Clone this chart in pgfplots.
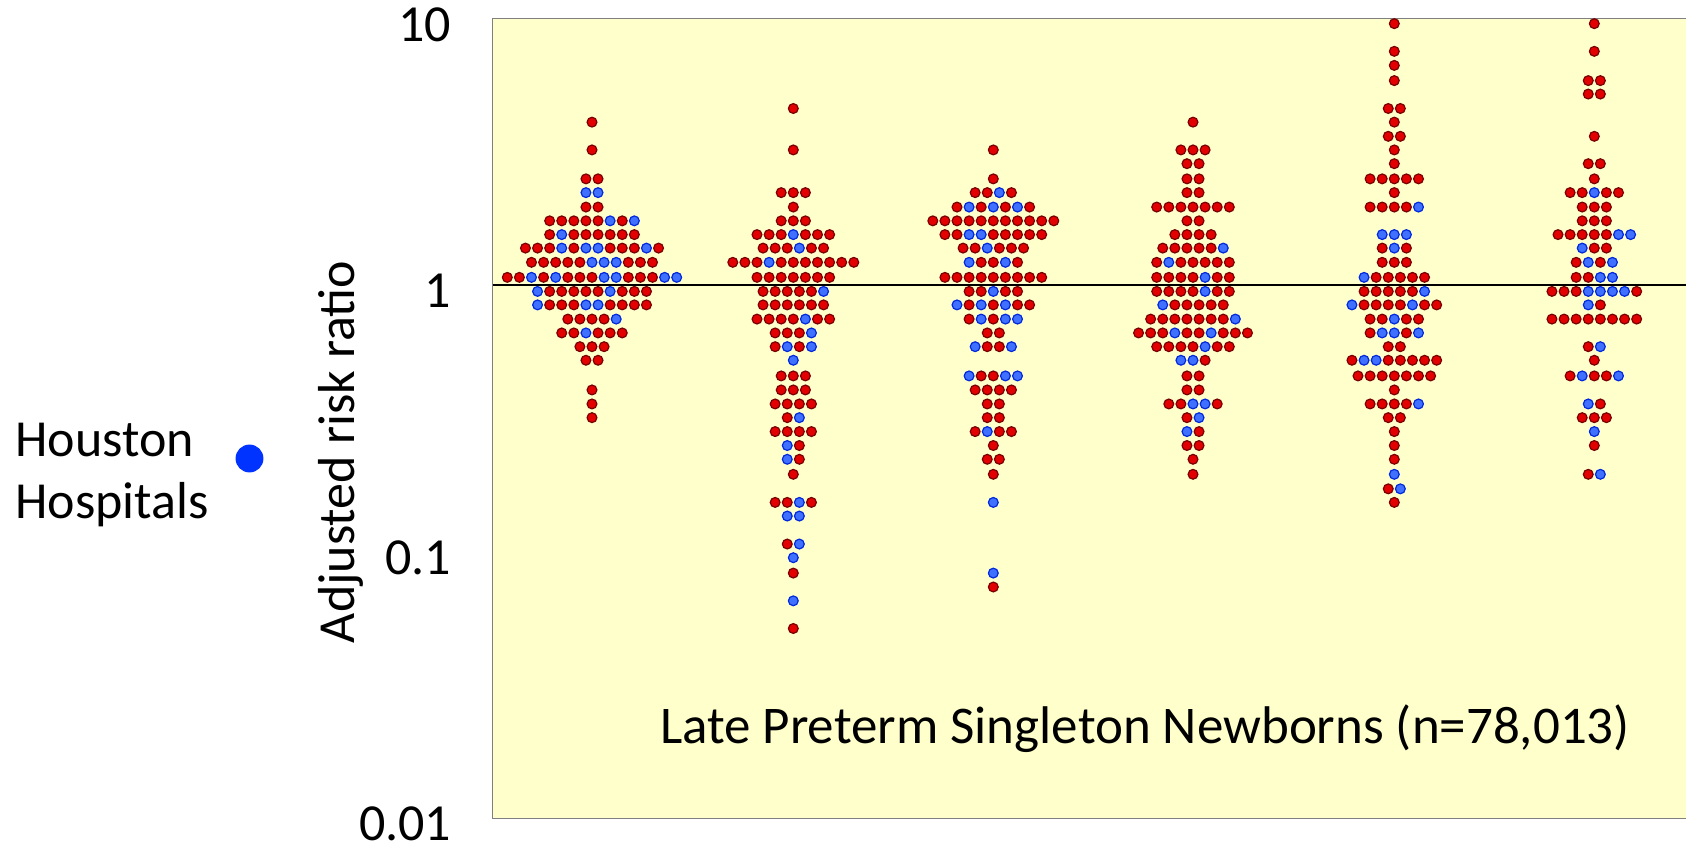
\documentclass[border=0pt]{standalone}
\usepackage{pgfplots}
\pgfplotsset{compat=1.18}
\usepackage{pgfplotstable}
\usepackage{fontspec}
\setmainfont{Carlito}
\definecolor{bgyellow}{RGB}{255,255,204}
\definecolor{rfill}{RGB}{226,0,0}
\definecolor{rdraw}{RGB}{120,0,0}
\definecolor{bfill}{RGB}{64,112,255}
\definecolor{bdraw}{RGB}{0,40,220}
\definecolor{legblue}{RGB}{0,51,255}
\newcommand{\bigfont}{\fontsize{26bp}{31.2bp}\selectfont}

% Group 1
\pgfplotstableread[row sep=\\]{
k y c \\
0 4.08 r \\
0 3.21 r \\
-0.5 2.50 r \\ 0.5 2.50 r \\
-0.5 2.22 b \\ 0.5 2.22 b \\
-0.5 1.96 r \\ 0.5 1.96 r \\
-3.5 1.74 r \\ -2.5 1.74 r \\ -1.5 1.74 r \\ -0.5 1.74 r \\ 0.5 1.74 r \\ 1.5 1.74 b \\ 2.5 1.74 r \\ 3.5 1.74 b \\
-3.5 1.545 r \\ -2.5 1.545 b \\ -1.5 1.545 r \\ -0.5 1.545 r \\ 0.5 1.545 r \\ 1.5 1.545 r \\ 2.5 1.545 r \\ 3.5 1.545 r \\
-5.5 1.375 r \\ -4.5 1.375 r \\ -3.5 1.375 r \\ -2.5 1.375 b \\ -1.5 1.375 r \\ -0.5 1.375 b \\ 0.5 1.375 b \\ 1.5 1.375 r \\ 2.5 1.375 r \\ 3.5 1.375 r \\ 4.5 1.375 b \\ 5.5 1.375 r \\
-5 1.216 r \\ -4 1.216 r \\ -3 1.216 r \\ -2 1.216 r \\ -1 1.216 r \\ 0 1.216 b \\ 1 1.216 b \\ 2 1.216 b \\ 3 1.216 r \\ 4 1.216 r \\ 5 1.216 r \\
-7 1.068 r \\ -6 1.068 r \\ -5 1.068 b \\ -4 1.068 r \\ -3 1.068 b \\ -2 1.068 r \\ -1 1.068 r \\ 0 1.068 r \\ 1 1.068 b \\ 2 1.068 b \\ 3 1.068 r \\ 4 1.068 r \\ 5 1.068 r \\ 6 1.068 b \\ 7 1.068 b \\
-4.5 0.946 b \\ -3.5 0.946 r \\ -2.5 0.946 r \\ -1.5 0.946 r \\ -0.5 0.946 r \\ 0.5 0.946 r \\ 1.5 0.946 b \\ 2.5 0.946 r \\ 3.5 0.946 r \\ 4.5 0.946 r \\
-4.5 0.842 b \\ -3.5 0.842 r \\ -2.5 0.842 r \\ -1.5 0.842 r \\ -0.5 0.842 b \\ 0.5 0.842 b \\ 1.5 0.842 r \\ 2.5 0.842 r \\ 3.5 0.842 r \\ 4.5 0.842 r \\
-2 0.745 r \\ -1 0.745 r \\ 0 0.745 r \\ 1 0.745 r \\ 2 0.745 b \\
-2.5 0.661 r \\ -1.5 0.661 r \\ -0.5 0.661 b \\ 0.5 0.661 r \\ 1.5 0.661 r \\ 2.5 0.661 r \\
-1 0.587 r \\ 0 0.587 r \\ 1 0.587 r \\
-0.5 0.522 r \\ 0.5 0.522 r \\
0 0.404 r \\
0 0.358 r \\
0 0.318 r \\
}\gone

% Group 2
\pgfplotstableread[row sep=\\]{
k y c \\
0 4.59 r \\
0 3.21 r \\
-1 2.22 r \\ 0 2.22 r \\ 1 2.22 r \\
0 1.96 r \\
-1 1.74 r \\ 0 1.74 r \\ 1 1.74 r \\
-3 1.545 r \\ -2 1.545 r \\ -1 1.545 r \\ 0 1.545 b \\ 1 1.545 r \\ 2 1.545 r \\ 3 1.545 r \\
-2.5 1.375 r \\ -1.5 1.375 r \\ -0.5 1.375 r \\ 0.5 1.375 b \\ 1.5 1.375 r \\ 2.5 1.375 r \\
-5 1.216 r \\ -4 1.216 r \\ -3 1.216 r \\ -2 1.216 b \\ -1 1.216 r \\ 0 1.216 r \\ 1 1.216 r \\ 2 1.216 r \\ 3 1.216 r \\ 4 1.216 r \\ 5 1.216 r \\
-3 1.068 r \\ -2 1.068 r \\ -1 1.068 r \\ 0 1.068 r \\ 1 1.068 r \\ 2 1.068 r \\ 3 1.068 r \\
-2.5 0.946 r \\ -1.5 0.946 r \\ -0.5 0.946 r \\ 0.5 0.946 r \\ 1.5 0.946 r \\ 2.5 0.946 b \\
-2.5 0.842 r \\ -1.5 0.842 r \\ -0.5 0.842 r \\ 0.5 0.842 r \\ 1.5 0.842 r \\ 2.5 0.842 r \\
-3 0.745 r \\ -2 0.745 r \\ -1 0.745 r \\ 0 0.745 r \\ 1 0.745 b \\ 2 0.745 r \\ 3 0.745 r \\
-1.5 0.661 r \\ -0.5 0.661 r \\ 0.5 0.661 r \\ 1.5 0.661 b \\
-1.5 0.587 r \\ -0.5 0.587 b \\ 0.5 0.587 r \\ 1.5 0.587 b \\
0 0.522 b \\
-1 0.456 r \\ 0 0.456 r \\ 1 0.456 r \\
-1 0.404 r \\ 0 0.404 r \\ 1 0.404 r \\
-1.5 0.358 r \\ -0.5 0.358 r \\ 0.5 0.358 r \\ 1.5 0.358 r \\
-0.5 0.318 r \\ 0.5 0.318 b \\
-1.5 0.282 r \\ -0.5 0.282 r \\ 0.5 0.282 r \\ 1.5 0.282 r \\
-0.5 0.250 b \\ 0.5 0.250 r \\
-0.5 0.222 b \\ 0.5 0.222 r \\
0 0.195 r \\
-1.5 0.153 r \\ -0.5 0.153 r \\ 0.5 0.153 b \\ 1.5 0.153 r \\
-0.5 0.136 b \\ 0.5 0.136 b \\
-0.5 0.1068 r \\ 0.5 0.1068 b \\
0 0.0949 b \\
0 0.0831 r \\
0 0.0654 b \\
0 0.0515 r \\
}\gtwo

% Group 3
\pgfplotstableread[row sep=\\]{
k y c \\
0 3.21 r \\
0 2.50 r \\
-1.5 2.22 r \\ -0.5 2.22 r \\ 0.5 2.22 b \\ 1.5 2.22 r \\
-3 1.96 r \\ -2 1.96 b \\ -1 1.96 r \\ 0 1.96 b \\ 1 1.96 r \\ 2 1.96 b \\ 3 1.96 r \\
-5 1.74 r \\ -4 1.74 r \\ -3 1.74 r \\ -2 1.74 r \\ -1 1.74 r \\ 0 1.74 r \\ 1 1.74 r \\ 2 1.74 r \\ 3 1.74 r \\ 4 1.74 r \\ 5 1.74 r \\
-4 1.545 r \\ -3 1.545 r \\ -2 1.545 b \\ -1 1.545 b \\ 0 1.545 r \\ 1 1.545 r \\ 2 1.545 r \\ 3 1.545 r \\ 4 1.545 r \\
-2.5 1.375 r \\ -1.5 1.375 r \\ -0.5 1.375 b \\ 0.5 1.375 r \\ 1.5 1.375 r \\ 2.5 1.375 r \\
-2 1.216 b \\ -1 1.216 r \\ 0 1.216 r \\ 1 1.216 b \\ 2 1.216 r \\
-4 1.068 r \\ -3 1.068 r \\ -2 1.068 r \\ -1 1.068 r \\ 0 1.068 r \\ 1 1.068 r \\ 2 1.068 r \\ 3 1.068 r \\ 4 1.068 r \\
-2 0.946 r \\ -1 0.946 r \\ 0 0.946 b \\ 1 0.946 r \\ 2 0.946 r \\
-3 0.842 b \\ -2 0.842 r \\ -1 0.842 b \\ 0 0.842 r \\ 1 0.842 b \\ 2 0.842 r \\ 3 0.842 r \\
-2 0.745 r \\ -1 0.745 b \\ 0 0.745 r \\ 1 0.745 b \\ 2 0.745 b \\
-0.5 0.661 r \\ 0.5 0.661 r \\
-1.5 0.587 b \\ -0.5 0.587 r \\ 0.5 0.587 r \\ 1.5 0.587 b \\
-2 0.456 b \\ -1 0.456 r \\ 0 0.456 r \\ 1 0.456 b \\ 2 0.456 b \\
-1.5 0.404 r \\ -0.5 0.404 r \\ 0.5 0.404 r \\ 1.5 0.404 r \\
-0.5 0.358 r \\ 0.5 0.358 r \\
-0.5 0.318 r \\ 0.5 0.318 r \\
-1.5 0.282 r \\ -0.5 0.282 b \\ 0.5 0.282 r \\ 1.5 0.282 r \\
0 0.250 r \\
-0.5 0.222 r \\ 0.5 0.222 r \\
0 0.195 r \\
0 0.153 b \\
0 0.0831 b \\
0 0.0737 r \\
}\gthree

% Group 4
\pgfplotstableread[row sep=\\]{
k y c \\
0 4.08 r \\
-1 3.21 r \\ 0 3.21 r \\ 1 3.21 r \\
-0.5 2.85 r \\ 0.5 2.85 r \\
-0.5 2.50 r \\ 0.5 2.50 r \\
-0.5 2.22 r \\ 0.5 2.22 r \\
-3 1.96 r \\ -2 1.96 r \\ -1 1.96 r \\ 0 1.96 r \\ 1 1.96 r \\ 2 1.96 r \\ 3 1.96 r \\
-0.5 1.74 r \\ 0.5 1.74 r \\
-1.5 1.545 r \\ -0.5 1.545 r \\ 0.5 1.545 r \\ 1.5 1.545 r \\
-2.5 1.375 r \\ -1.5 1.375 r \\ -0.5 1.375 r \\ 0.5 1.375 r \\ 1.5 1.375 r \\ 2.5 1.375 b \\
-3 1.216 r \\ -2 1.216 b \\ -1 1.216 r \\ 0 1.216 r \\ 1 1.216 r \\ 2 1.216 r \\ 3 1.216 r \\
-3 1.068 r \\ -2 1.068 r \\ -1 1.068 r \\ 0 1.068 r \\ 1 1.068 b \\ 2 1.068 r \\ 3 1.068 r \\
-3 0.946 r \\ -2 0.946 r \\ -1 0.946 r \\ 0 0.946 r \\ 1 0.946 b \\ 2 0.946 r \\ 3 0.946 r \\
-2.5 0.842 b \\ -1.5 0.842 r \\ -0.5 0.842 r \\ 0.5 0.842 r \\ 1.5 0.842 r \\ 2.5 0.842 r \\
-3.5 0.745 r \\ -2.5 0.745 r \\ -1.5 0.745 r \\ -0.5 0.745 r \\ 0.5 0.745 r \\ 1.5 0.745 r \\ 2.5 0.745 r \\ 3.5 0.745 b \\
-4.5 0.661 r \\ -3.5 0.661 r \\ -2.5 0.661 r \\ -1.5 0.661 b \\ -0.5 0.661 r \\ 0.5 0.661 r \\ 1.5 0.661 b \\ 2.5 0.661 r \\ 3.5 0.661 r \\ 4.5 0.661 r \\
-3 0.587 r \\ -2 0.587 r \\ -1 0.587 r \\ 0 0.587 r \\ 1 0.587 b \\ 2 0.587 r \\ 3 0.587 r \\
-1 0.522 b \\ 0 0.522 b \\ 1 0.522 r \\
-0.5 0.456 r \\ 0.5 0.456 r \\
-0.5 0.404 r \\ 0.5 0.404 r \\
-2 0.358 r \\ -1 0.358 r \\ 0 0.358 b \\ 1 0.358 b \\ 2 0.358 r \\
-0.5 0.318 r \\ 0.5 0.318 b \\
-0.5 0.282 b \\ 0.5 0.282 r \\
-0.5 0.250 r \\ 0.5 0.250 r \\
0 0.222 r \\
0 0.195 r \\
}\gfour

% Group 5
\pgfplotstableread[row sep=\\]{
k y c \\
0 9.55 r \\
0 7.52 r \\
0 6.66 r \\
0 5.84 r \\
-0.5 4.59 r \\ 0.5 4.59 r \\
0 4.08 r \\
-0.5 3.61 r \\ 0.5 3.61 r \\
0 3.21 r \\
0 2.85 r \\
-2 2.50 r \\ -1 2.50 r \\ 0 2.50 r \\ 1 2.50 r \\ 2 2.50 r \\
0 2.22 r \\
-2 1.96 r \\ -1 1.96 r \\ 0 1.96 r \\ 1 1.96 r \\ 2 1.96 b \\
-1 1.545 b \\ 0 1.545 b \\ 1 1.545 b \\
-1 1.375 r \\ 0 1.375 b \\ 1 1.375 r \\
-1 1.216 r \\ 0 1.216 r \\ 1 1.216 r \\
-2.5 1.068 b \\ -1.5 1.068 r \\ -0.5 1.068 r \\ 0.5 1.068 r \\ 1.5 1.068 r \\ 2.5 1.068 r \\
-2.5 0.946 r \\ -1.5 0.946 r \\ -0.5 0.946 r \\ 0.5 0.946 r \\ 1.5 0.946 r \\ 2.5 0.946 b \\
-3.5 0.842 b \\ -2.5 0.842 r \\ -1.5 0.842 r \\ -0.5 0.842 r \\ 0.5 0.842 r \\ 1.5 0.842 b \\ 2.5 0.842 r \\ 3.5 0.842 r \\
-2 0.745 r \\ -1 0.745 r \\ 0 0.745 b \\ 1 0.745 r \\ 2 0.745 r \\
-2 0.661 r \\ -1 0.661 b \\ 0 0.661 b \\ 1 0.661 r \\ 2 0.661 b \\
-0.5 0.587 r \\ 0.5 0.587 r \\
-3.5 0.522 r \\ -2.5 0.522 b \\ -1.5 0.522 b \\ -0.5 0.522 r \\ 0.5 0.522 r \\ 1.5 0.522 r \\ 2.5 0.522 r \\ 3.5 0.522 r \\
-3 0.456 r \\ -2 0.456 r \\ -1 0.456 r \\ 0 0.456 r \\ 1 0.456 r \\ 2 0.456 r \\ 3 0.456 r \\
0 0.404 r \\
-2 0.358 r \\ -1 0.358 r \\ 0 0.358 r \\ 1 0.358 r \\ 2 0.358 b \\
-0.5 0.318 r \\ 0.5 0.318 r \\
0 0.282 r \\
0 0.250 r \\
0 0.222 r \\
0 0.195 b \\
-0.5 0.172 r \\ 0.5 0.172 b \\
0 0.153 r \\
}\gfive

% Group 6
\pgfplotstableread[row sep=\\]{
k y c \\
0 9.55 r \\
0 7.52 r \\
-0.5 5.84 r \\ 0.5 5.84 r \\
-0.5 5.20 r \\ 0.5 5.20 r \\
0 3.61 r \\
-0.5 2.85 r \\ 0.5 2.85 r \\
0 2.50 r \\
-2 2.22 r \\ -1 2.22 r \\ 0 2.22 b \\ 1 2.22 r \\ 2 2.22 r \\
-1 1.96 r \\ 0 1.96 r \\ 1 1.96 r \\
-1 1.74 r \\ 0 1.74 r \\ 1 1.74 r \\
-3 1.545 r \\ -2 1.545 r \\ -1 1.545 r \\ 0 1.545 r \\ 1 1.545 r \\ 2 1.545 b \\ 3 1.545 b \\
-1 1.375 b \\ 0 1.375 r \\ 1 1.375 r \\
-1.5 1.216 r \\ -0.5 1.216 b \\ 0.5 1.216 r \\ 1.5 1.216 b \\
-1.5 1.068 r \\ -0.5 1.068 r \\ 0.5 1.068 b \\ 1.5 1.068 b \\
-3.5 0.946 r \\ -2.5 0.946 r \\ -1.5 0.946 r \\ -0.5 0.946 b \\ 0.5 0.946 b \\ 1.5 0.946 b \\ 2.5 0.946 b \\ 3.5 0.946 r \\
-0.5 0.842 b \\ 0.5 0.842 r \\
-3.5 0.745 r \\ -2.5 0.745 r \\ -1.5 0.745 r \\ -0.5 0.745 r \\ 0.5 0.745 r \\ 1.5 0.745 r \\ 2.5 0.745 r \\ 3.5 0.745 r \\
-0.5 0.587 r \\ 0.5 0.587 b \\
0 0.522 r \\
-2 0.456 r \\ -1 0.456 b \\ 0 0.456 r \\ 1 0.456 r \\ 2 0.456 b \\
-0.5 0.358 b \\ 0.5 0.358 r \\
-1 0.318 r \\ 0 0.318 r \\ 1 0.318 r \\
0 0.282 b \\
0 0.250 r \\
-0.5 0.195 r \\ 0.5 0.195 b \\
}\gsix

\begin{document}
\begin{tikzpicture}
\begin{axis}[
  name=ax, at={(246.35bp,13.85bp)}, anchor=south west,
  scale only axis, width=597.65bp, height=400bp,
  xmin=492.7, xmax=1688,
  ymode=log, ymin=0.01, ymax=10,
  clip=false,
  axis background/.style={fill=bgyellow},
  axis line style={draw=black!50, line width=0.7bp},
  xtick=\empty,
  ytick={0.01,0.1,1,10},
  yticklabels={0.01,0.1,1,10},
  yminorticks=false,
  major tick length=0pt,
  /pgf/number format/assume math mode=true,
  yticklabel style={anchor=east, inner sep=0pt, xshift=-20.5bp, yshift=-3bp, font=\bigfont},
  legend plot pos=right,
  legend style={draw=none, fill=none, inner sep=0pt, at={(rel axis cs:-0.3997,0.4946)}, anchor=north west, font=\bigfont, nodes={align=left, inner sep=0pt}},
  scatter/classes={r={mark=*, draw=rdraw, fill=rfill}, b={mark=*, draw=bdraw, fill=bfill}},
  every axis plot/.append style={line width=0.6bp},
]
\addplot[black, line width=0.6bp, forget plot] coordinates {(492.7,1) (1688,1)};
\addplot[scatter, only marks, scatter src=explicit symbolic, mark size=2.45bp, forget plot] table[x expr=592+12.1*\thisrow{k}, y=y, meta=c]{\gone};
\addplot[scatter, only marks, scatter src=explicit symbolic, mark size=2.45bp, forget plot] table[x expr=793.3+12.1*\thisrow{k}, y=y, meta=c]{\gtwo};
\addplot[scatter, only marks, scatter src=explicit symbolic, mark size=2.45bp, forget plot] table[x expr=993.3+12.1*\thisrow{k}, y=y, meta=c]{\gthree};
\addplot[scatter, only marks, scatter src=explicit symbolic, mark size=2.45bp, forget plot] table[x expr=1193+12.1*\thisrow{k}, y=y, meta=c]{\gfour};
\addplot[scatter, only marks, scatter src=explicit symbolic, mark size=2.45bp, forget plot] table[x expr=1394.3+12.1*\thisrow{k}, y=y, meta=c]{\gfive};
\addplot[scatter, only marks, scatter src=explicit symbolic, mark size=2.45bp, forget plot] table[x expr=1594.3+12.1*\thisrow{k}, y=y, meta=c]{\gsix};
\addlegendimage{legend image code/.code={\path (0bp,6.95bp); \fill[legblue] (20.1bp,6.95bp) circle (6.67bp);}}
\addlegendentry{Houston\\Hospitals}
\node[anchor=base, font=\fontsize{26.5bp}{31.8bp}\selectfont] at (rel axis cs:0.5457,0.093) {Late Preterm Singleton Newborns (n=78,013)};
\end{axis}
\node[rotate=90, font=\bigfont] at (170.5bp,197.05bp) {Adjusted risk ratio};
\pgfresetboundingbox
\useasboundingbox (0,0) rectangle (843bp,423bp);
\end{tikzpicture}
\end{document}
